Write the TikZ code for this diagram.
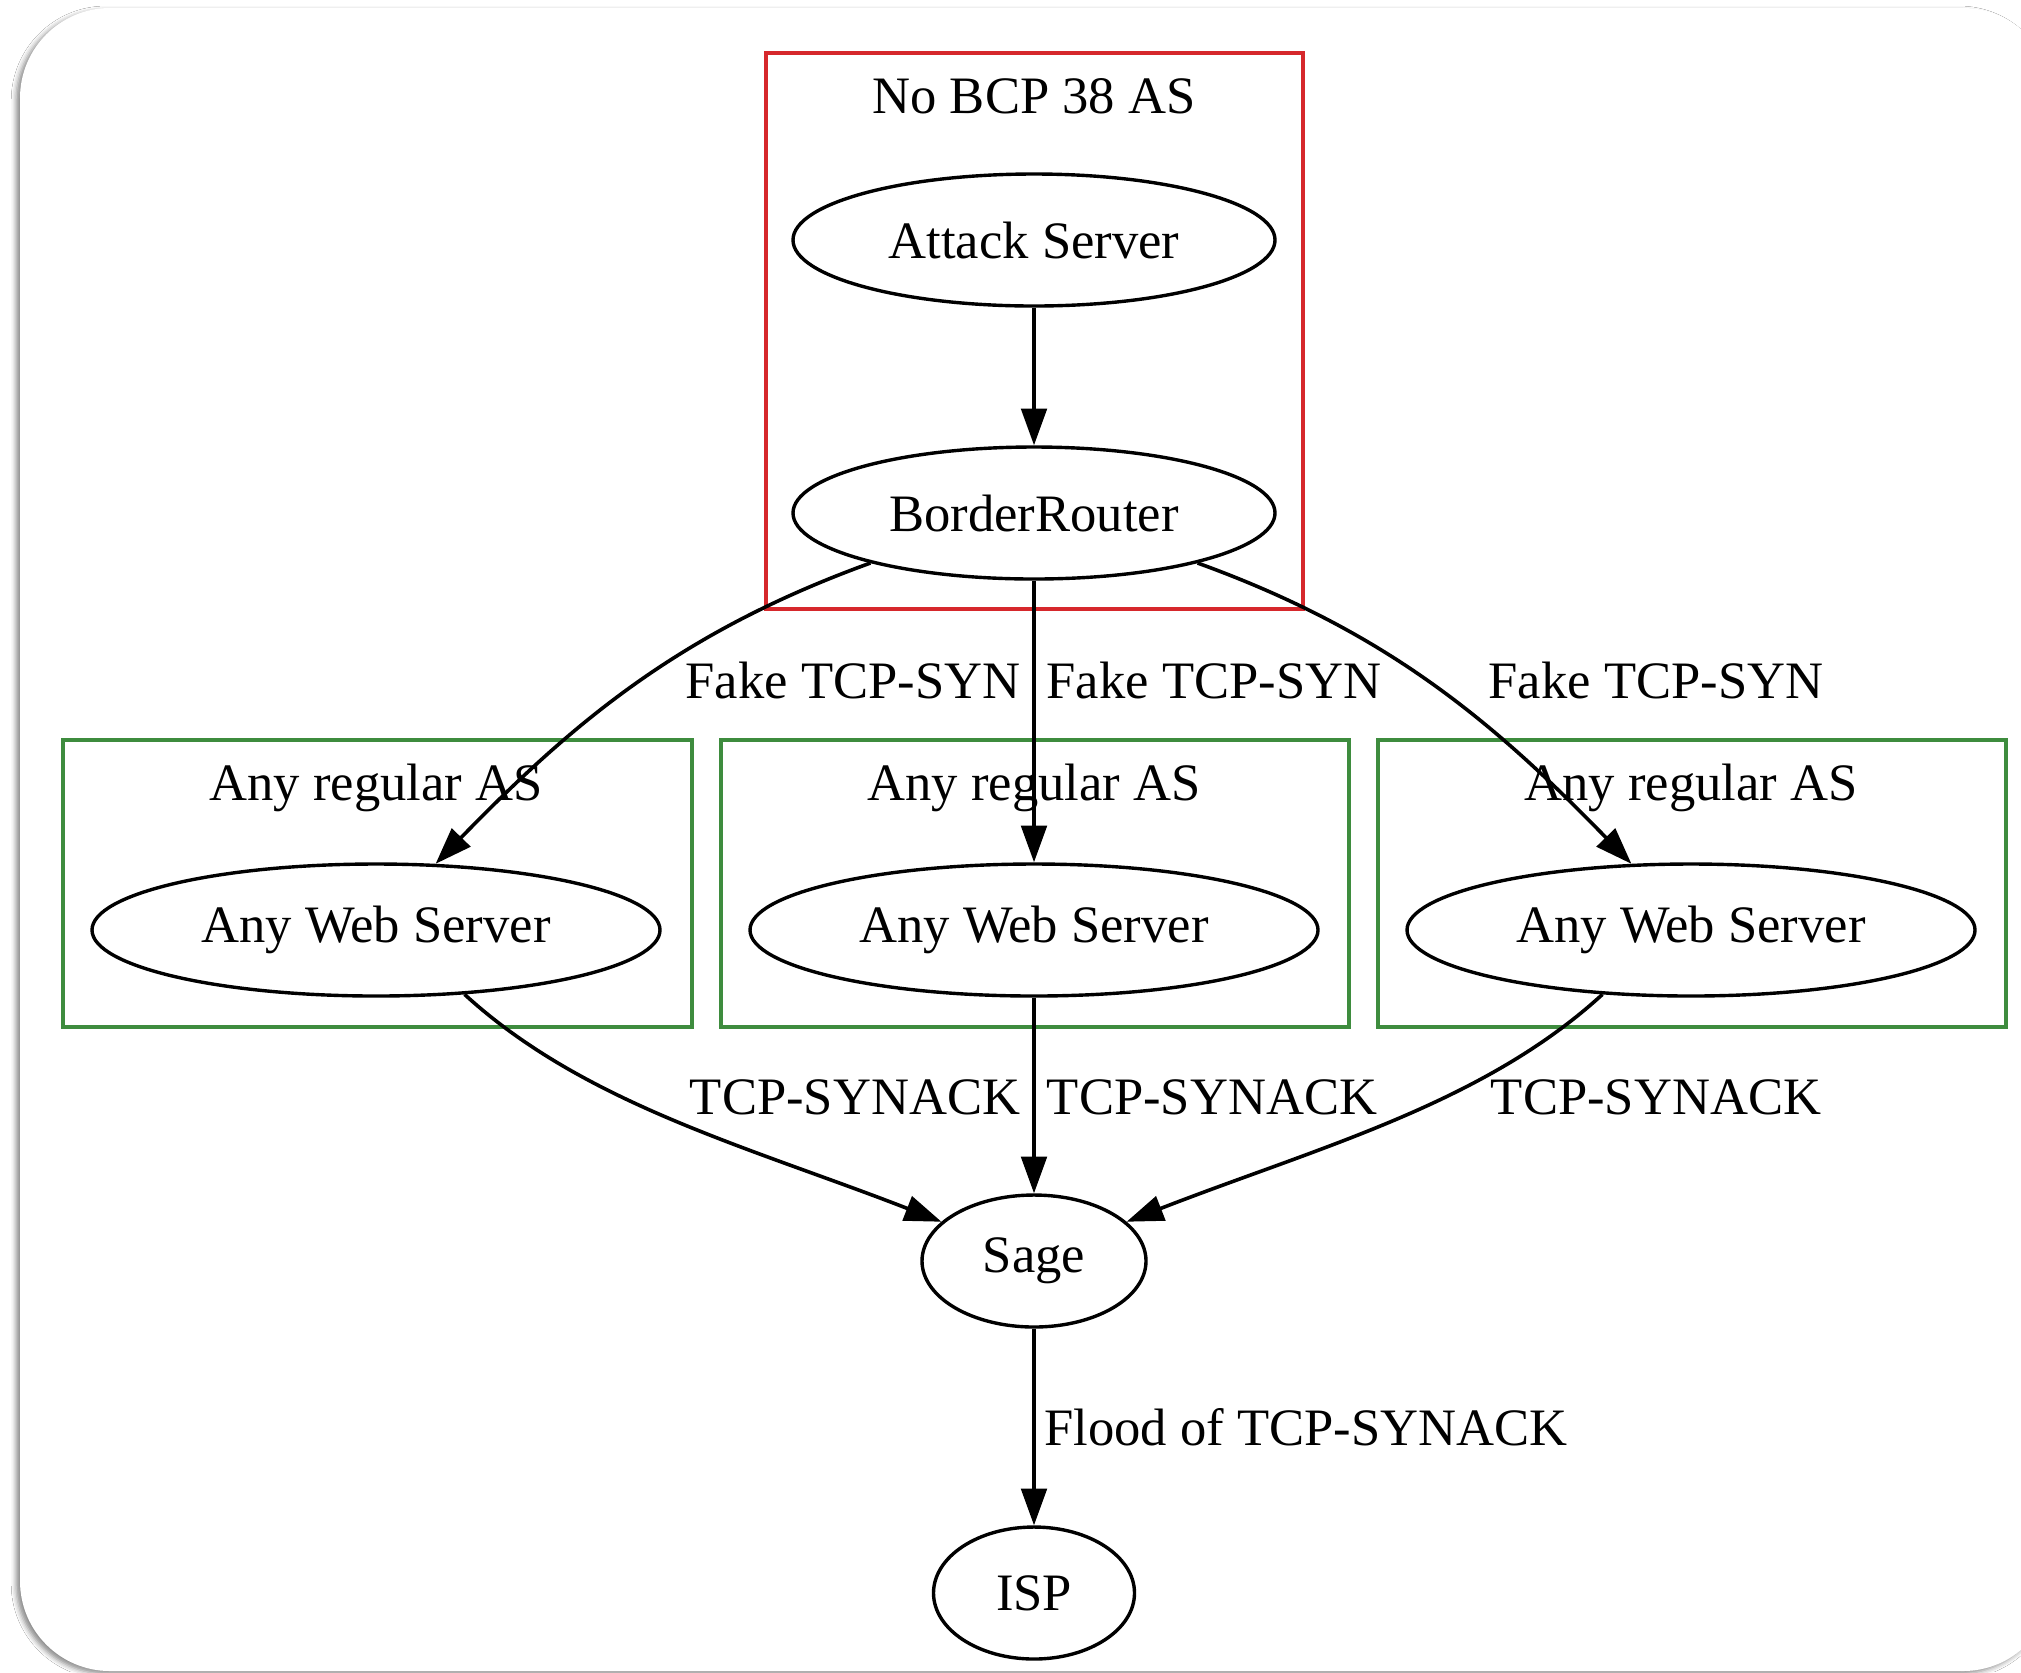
\documentclass[tikz,border=0pt]{standalone}
\usepackage{fontspec}
\setmainfont{Liberation Serif}
\usetikzlibrary{arrows.meta,shapes.geometric,shadows.blur}

\definecolor{asred}{RGB}{214,40,44}
\definecolor{asgreen}{RGB}{62,140,62}
\newcommand\gvfont{\fontsize{13.15pt}{15.5pt}\selectfont}

\tikzset{
  gnode/.style={draw=black, line width=0.85pt, ellipse, inner sep=0pt,
                minimum height=33pt, font=\gvfont},
  cluster/.style={draw, line width=0.8pt, inner sep=0pt, rectangle},
  ctitle/.style={font=\gvfont, inner sep=0pt},
  elabel/.style={font=\gvfont, inner sep=0pt},
  edge/.style={draw=black, line width=0.9pt,
               -{Triangle[length=9.2pt,width=6.4pt]}},
  card/.style={fill=white, rounded corners=22.5pt,
               blur shadow={shadow xshift=-1pt, shadow yshift=-0.7pt,
                            shadow blur radius=1.2pt, shadow opacity=45}}
}

\begin{document}
\begin{tikzpicture}[x=0.25pt, y=-0.25pt]
  \useasboundingbox (0,0) rectangle (2021,1672);
  \fill[white] (0,0) rectangle (2021,1672);
  \path[card] (20,8) rectangle (2053,1671);

  % clusters
  \node[cluster, draw=asred, minimum width=134.25pt, minimum height=139pt]
    (bcp) at (1034.5,331) {};
  \node[ctitle] (bcptitle) at (1034,96) {No BCP 38 AS};

  \node[cluster, draw=asgreen, minimum width=157.25pt, minimum height=71.75pt]
    (asl) at (377.5,883.5) {};
  \node[cluster, draw=asgreen, minimum width=157pt, minimum height=71.75pt]
    (asm) at (1035,883.5) {};
  \node[cluster, draw=asgreen, minimum width=157pt, minimum height=71.75pt]
    (asr) at (1692,883.5) {};
  \node[ctitle] (asltitle) at (376,788) {Any regular AS};
  \node[ctitle] (asmtitle) at (1034,788) {Any regular AS};
  \node[ctitle] (asrtitle) at (1691,788) {Any regular AS};

  % nodes
  \node[gnode, minimum width=120.5pt] (atk) at (1034,240) {Attack Server};
  \node[gnode, minimum width=120.5pt] (br)  at (1034,513) {BorderRouter};
  \node[gnode, minimum width=142pt]   (ws1) at (376,930)  {Any Web Server};
  \node[gnode, minimum width=142pt]   (ws2) at (1034,930) {Any Web Server};
  \node[gnode, minimum width=142pt]   (ws3) at (1691,930) {Any Web Server};
  \node[gnode, minimum width=56pt]    (sage) at (1034,1261) {Sage};
  \node[gnode, minimum width=50.25pt] (isp)  at (1034,1593) {ISP};

  % edges
  \draw[edge] (atk) -- (br);
  \draw[edge] (br.197) .. controls +(-188,68) and +(140,-144) .. (ws1.48);
  \draw[edge] (br) -- (ws2);
  \draw[edge] (br.-17) .. controls +(188,68) and +(-140,-144) .. (ws3.132);
  \draw[edge] (ws1.-36) .. controls +(120,110) and +(-190,-74) .. (sage.157);
  \draw[edge] (ws2) -- (sage);
  \draw[edge] (ws3.216) .. controls +(-120,110) and +(190,-74) .. (sage.23);
  \draw[edge] (sage) -- (isp);

  % edge labels
  \node[elabel] (l1) at (853,680)  {Fake TCP-SYN};
  \node[elabel] (l2) at (1214,680) {Fake TCP-SYN};
  \node[elabel] (l3) at (1656,680) {Fake TCP-SYN};
  \node[elabel] (l4) at (855,1097)  {TCP-SYNACK};
  \node[elabel] (l5) at (1212,1097) {TCP-SYNACK};
  \node[elabel] (l6) at (1656,1097) {TCP-SYNACK};
  \node[elabel] (l7) at (1306,1427) {Flood of TCP-SYNACK};
\end{tikzpicture}
\end{document}
